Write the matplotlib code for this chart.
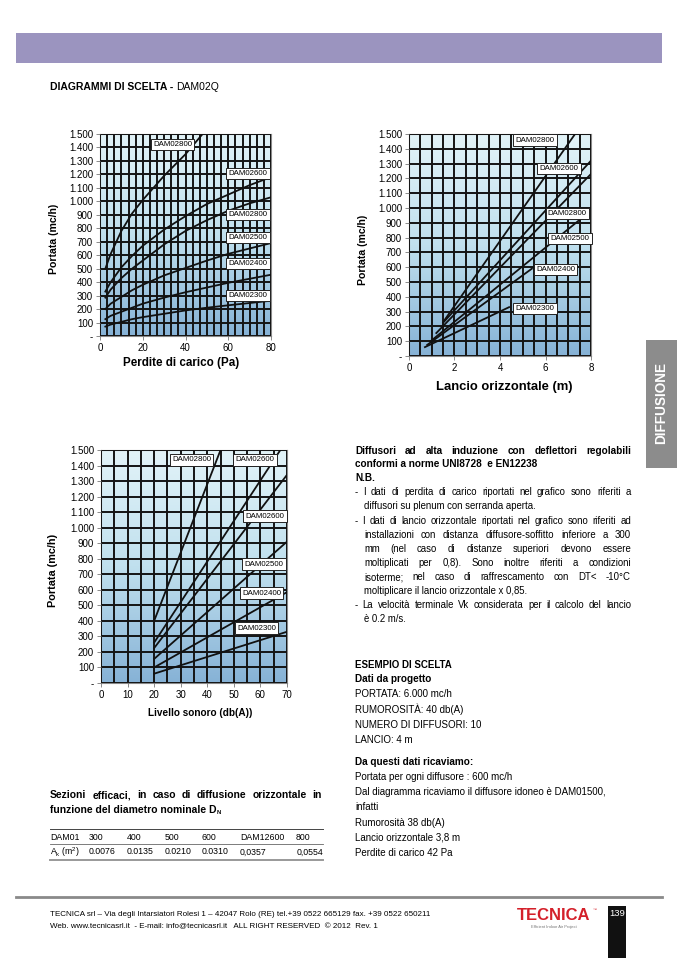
import numpy as np
import matplotlib
matplotlib.use("Agg")
import matplotlib.pyplot as plt
from matplotlib.colors import LinearSegmentedColormap
from matplotlib.patches import Rectangle

plt.rcParams['font.family'] = ['Liberation Sans', 'DejaVu Sans']

# ---- data ----
# chart 1: perdite di carico (Pa) -> portata (mc/h)
pc_names = ['DAM02800', 'DAM02600', 'DAM02800', 'DAM02500', 'DAM02400', 'DAM02300']
pc_x = [
    [2.5, 5, 10, 15, 20, 30, 40, 48],
    [2.5, 5, 10, 15, 20, 30, 40, 50, 60, 70, 80],
    [2.5, 5, 10, 15, 20, 30, 40, 50, 60, 70, 80],
    [2.5, 5, 10, 15, 20, 30, 40, 50, 60, 70, 80],
    [2.5, 5, 10, 15, 20, 30, 40, 50, 60, 70, 80],
    [2.5, 5, 10, 15, 20, 30, 40, 50, 60, 70, 80],
]
pc_y = [
    [500, 610, 780, 910, 1010, 1190, 1350, 1500],
    [330, 400, 510, 595, 670, 790, 890, 980, 1050, 1120, 1180],
    [285, 345, 430, 500, 560, 680, 780, 860, 930, 985, 1030],
    [200, 240, 290, 340, 380, 450, 505, 560, 610, 650, 690],
    [125, 150, 180, 210, 240, 285, 325, 360, 395, 425, 455],
    [70, 85, 105, 125, 140, 165, 190, 210, 228, 245, 262],
]
pc_lab = [(34, 1421), (69.2, 1208), (69.2, 903), (69.2, 730), (69.2, 540), (69.2, 300)]

# chart 2: lancio orizzontale (m) -> portata (mc/h)
lo_names = ['DAM02800', 'DAM02600', 'DAM02800', 'DAM02500', 'DAM02400', 'DAM02300']
lo_x = [[1.55, 7.3], [1.5, 8.0], [1.2, 8.0], [0.95, 7.5], [0.8, 5.4], [0.7, 4.4]]
lo_y = [[240, 1500], [225, 1320], [155, 1230], [100, 920], [75, 590], [60, 330]]
lo_lab = [(5.54, 1459), (6.59, 1268), (6.96, 964), (7.08, 795), (6.45, 586), (5.54, 322)]

# chart 3: livello sonoro (db(A)) -> portata (mc/h)
ls_names = ['DAM02800', 'DAM02600', 'DAM02600', 'DAM02500', 'DAM02400', 'DAM02300']
ls_x = [[20, 45], [20, 67.5], [20, 70], [20, 70], [20, 70], [20, 70]]
ls_y = [[400, 1500], [260, 1500], [225, 1340], [155, 910], [100, 585], [60, 330]]
ls_lab = [(34.1, 1436), (58, 1436), (61.7, 1075), (61.3, 766), (60.5, 579), (58.6, 354)]

tab_head = ['DAM01', '300', '400', '500', '600', 'DAM12600', '800']
tab_ak = [r'A$_\mathregular{k}$ (m$^\mathregular{2}$)', '0.0076', '0.0135', '0.0210', '0.0310', '0,0357', '0,0554']

W, H = 677, 958
fig = plt.figure(figsize=(W / 100, H / 100), dpi=100)
fig.patch.set_facecolor('white')

page = fig.add_axes([0, 0, 1, 1])
page.set_xlim(0, W)
page.set_ylim(H, 0)
page.axis('off')

grad = LinearSegmentedColormap.from_list('g', ['#86b2d6', '#c0e0ee', '#e2f3f8'])


def ytick_fmt(v, pos):
    if v == 0:
        return '-'
    return f'{int(v):,}'.replace(',', '.')


def chart(left, right, top, bottom, xmax, xmaj, xmin_step, xs, ys, names, labpos):
    ax = fig.add_axes([left / W, 1 - bottom / H, (right - left) / W, (bottom - top) / H])
    ax.imshow(np.linspace(0, 1, 256).reshape(-1, 1), cmap=grad, origin='lower',
              extent=[0, xmax, 0, 1500], aspect='auto', zorder=0)
    ax.set_xlim(0, xmax)
    ax.set_ylim(0, 1500)
    ax.set_xticks(np.arange(0, xmax + 0.001, xmaj))
    ax.set_xticks(np.arange(0, xmax + 0.001, xmin_step), minor=True)
    ax.set_yticks(np.arange(0, 1501, 100))
    ax.yaxis.set_major_formatter(plt.FuncFormatter(ytick_fmt))
    ax.grid(True, which='both', axis='x', color='#141414', lw=1.4, zorder=1)
    ax.grid(True, which='major', axis='y', color='#141414', lw=1.4, zorder=1)
    ax.set_axisbelow(False)
    ax.tick_params(which='major', labelsize=7, length=3, width=0.6, color='#777777', pad=2)
    ax.tick_params(which='minor', length=0)
    for s in ax.spines.values():
        s.set_color('#888888')
        s.set_linewidth(0.8)
    for x, y in zip(xs, ys):
        ax.plot(x, y, color='#111111', lw=1.3, zorder=3, clip_on=True)
    for n, (px, py) in zip(names, labpos):
        ax.text(px, py, n, fontsize=5.7, ha='center', va='center', zorder=5,
                bbox=dict(boxstyle='square,pad=0.28', fc='white', ec='#222222', lw=0.7))
    return ax


chart(100, 271, 134, 336, 80, 20, 80 / 24, pc_x, pc_y, pc_names, pc_lab)
chart(409, 591, 134, 356, 8, 2, 0.5, lo_x, lo_y, lo_names, lo_lab)
chart(101, 287, 450, 683, 70, 10, 5, ls_x, ls_y, ls_names, ls_lab)

# axis titles
page.text(54, 239, 'Portata (mc/h)', rotation=90, ha='center', va='center', fontsize=7.6, fontweight='bold')
page.text(363, 250, 'Portata (mc/h)', rotation=90, ha='center', va='center', fontsize=7.6, fontweight='bold')
page.text(53, 570, 'Portata (mc/h)', rotation=90, ha='center', va='center', fontsize=7.8, fontweight='bold')
page.text(181, 363, 'Perdite di carico (Pa)', ha='center', va='center', fontsize=8.4, fontweight='bold')
page.text(504, 387, 'Lancio orizzontale (m)', ha='center', va='center', fontsize=9.4, fontweight='bold')
page.text(200, 713, 'Livello sonoro (db(A))', ha='center', va='center', fontsize=7.2, fontweight='bold')

# header band and title
page.add_patch(Rectangle((16, 33), 646, 30, fc='#9b94bf', ec='none'))
t = page.text(50, 87, 'DIAGRAMMI DI SCELTA - ', fontsize=7.5, fontweight='bold', va='center')
renderer = fig.canvas.get_renderer()
tw = t.get_window_extent(renderer).width
page.text(50 + tw, 87, 'DAM02Q', fontsize=7.5, va='center')

# side tab
page.add_patch(Rectangle((646, 340), 31, 128, fc='#8c8c8c', ec='none'))
page.text(661, 403, 'DIFFUSIONE', rotation=90, color='white', fontsize=9.8, fontweight='bold',
          ha='center', va='center')


def justify(line, x0, x1, y, **kw):
    words = line.split()
    texts = [page.text(x0, y, w, va='center', ha='left', **kw) for w in words]
    widths = [tt.get_window_extent(renderer).width for tt in texts]
    gap = (x1 - x0 - sum(widths)) / max(len(words) - 1, 1)
    x = x0
    for tt, w in zip(texts, widths):
        tt.set_x(x)
        x += w + gap


body = 6.95
head = 7.2
justify('Diffusori ad alta induzione con deflettori regolabili', 355, 631, 451, fontsize=head, fontweight='bold')
page.text(355, 464, 'conformi a norme UNI8728  e EN12238', fontsize=head, fontweight='bold', va='center')
page.text(355, 478, 'N.B.', fontsize=head, fontweight='bold', va='center')
justify('-  I dati di perdita di carico riportati nel grafico sono riferiti a', 355, 631, 492, fontsize=body)
page.text(364, 506, 'diffusori su plenum con serranda aperta.', fontsize=body, va='center')
justify('- I dati di lancio orizzontale riportati nel grafico sono riferiti ad', 355, 631, 521, fontsize=body)
justify('installazioni con distanza diffusore-soffitto inferiore a 300', 364, 631, 535, fontsize=body)
justify('mm (nel caso di distanze superiori devono essere', 364, 631, 549, fontsize=body)
justify('moltiplicati per 0,8). Sono inoltre riferiti a condizioni', 364, 631, 563, fontsize=body)
justify('isoterme; nel caso di raffrescamento con  DT< -10°C', 364, 631, 577, fontsize=body)
page.text(364, 591, 'moltiplicare il lancio orizzontale x 0,85.', fontsize=body, va='center')
justify('- La velocità terminale Vk considerata per il calcolo del lancio', 355, 631, 605, fontsize=body)
page.text(364, 619, 'è 0.2 m/s.', fontsize=body, va='center')

ex = 7.0
page.text(355, 665, 'ESEMPIO DI SCELTA', fontsize=ex, fontweight='bold', va='center')
page.text(355, 679, 'Dati da progetto', fontsize=head, fontweight='bold', va='center')
ex_lines = ['PORTATA: 6.000 mc/h', 'RUMOROSITÀ: 40 db(A)', 'NUMERO DI DIFFUSORI: 10', 'LANCIO: 4 m']
for i, s in enumerate(ex_lines):
    page.text(355, 694 + i * 15.3, s, fontsize=ex, va='center')
page.text(355, 762, 'Da questi dati ricaviamo:', fontsize=head, fontweight='bold', va='center')
res_lines = ['Portata per ogni diffusore : 600 mc/h',
             'Dal diagramma ricaviamo il diffusore idoneo è DAM01500,',
             'infatti', 'Rumorosità 38 db(A)', 'Lancio orizzontale 3,8 m', 'Perdite di carico 42 Pa']
for i, s in enumerate(res_lines):
    page.text(355, 777 + i * 15.2, s, fontsize=ex, va='center')

# sezioni efficaci
justify('Sezioni efficaci, in caso di diffusione orizzontale in', 50, 322, 795, fontsize=7.5, fontweight='bold')
t = page.text(50, 810, 'funzione del diametro nominale D', fontsize=7.5, fontweight='bold', va='center')
tw = t.get_window_extent(renderer).width
page.text(50 + tw + 0.5, 812, 'N', fontsize=4.2, fontweight='bold', va='center')

col_x = [50, 89, 127, 165, 202, 240, 296]
for cx, s in zip(col_x, tab_head):
    page.text(cx, 837, s, fontsize=6.3, va='center')
for i, (cx, s) in enumerate(zip(col_x, tab_ak)):
    if i == len(tab_ak) - 1:
        page.text(323, 852, s, fontsize=6.3, va='center', ha='right')
    else:
        page.text(cx, 852, s, fontsize=6.3, va='center')
page.plot([50, 323], [829, 829], color='#444444', lw=0.7)
page.plot([50, 323], [844, 844], color='#666666', lw=0.6)
page.plot([50, 323], [860, 860], color='#999999', lw=1.4)

# footer
page.plot([16, 662], [897, 897], color='#8a8a8a', lw=2)
page.text(50, 914, 'TECNICA srl – Via degli Intarsiatori Rolesi 1 – 42047 Rolo (RE) tel.+39 0522 665129 fax. +39 0522 650211',
          fontsize=5.75, va='center')
page.text(50, 927, 'Web. www.tecnicasrl.it  - E-mail: info@tecnicasrl.it   ALL RIGHT RESERVED  © 2012  Rev. 1',
          fontsize=5.75, va='center')
page.text(554, 915, 'TECNICA', color='#d4202a', fontsize=12, fontweight='bold', ha='center', va='center')
page.text(595, 910, '™', color='#d4202a', fontsize=3, ha='center', va='center')
page.text(554, 927, 'Efficient Indoor Air Project', color='#777777', fontsize=2.9, ha='center', va='center')
page.add_patch(Rectangle((608, 906), 18, 52, fc='#111111', ec='none'))
page.text(617, 914, '139', color='white', fontsize=6.8, ha='center', va='center')

fig.savefig('out.png', dpi=100, facecolor='white')
